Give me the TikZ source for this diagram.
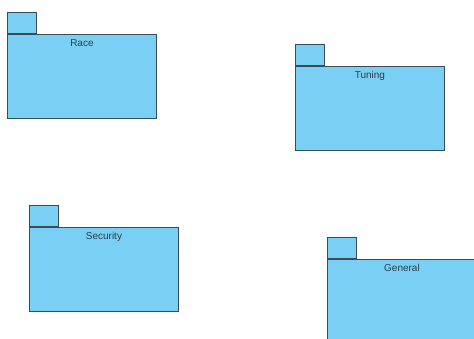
\documentclass[tikz,border=0pt]{standalone}
\usepackage{fontspec}
\setmainfont{Liberation Sans}
\usetikzlibrary{positioning}
\definecolor{pkgfill}{HTML}{7ACFF4}
\definecolor{pkgline}{HTML}{3C4A55}
\definecolor{pkgtext}{HTML}{2E3E4A}
\begin{document}
\begin{tikzpicture}[x=1pt, y=-1pt,
		body/.style = {rectangle, draw=pkgline, fill=pkgfill, line width=0.9pt, minimum width=149, minimum height=84, anchor=north west, inner sep=0},
		tab/.style = {rectangle, draw=pkgline, fill=pkgfill, line width=0.9pt, minimum width=29, minimum height=21, anchor=south west, inner sep=0},
		lbl/.style = {text=pkgtext, font=\fontsize{10}{12}\selectfont, inner sep=0}
		]
		\useasboundingbox (0,0) rectangle (474,338);
		\clip (0,0) rectangle (474,338);
		
		%Packages
		\node[body]	(race)		at	(7, 34)		{};
		\node[body]	(tuning)	at	(295, 66)	{};
		\node[body]	(security)	at	(29, 227)	{};
		\node[body]	(general)	at	(327, 259)	{};
		
		%Tabs
		\node[tab]	(racetab)		at	(race.north west)		{};
		\node[tab]	(tuningtab)		at	(tuning.north west)		{};
		\node[tab]	(securitytab)	at	(security.north west)	{};
		\node[tab]	(generaltab)	at	(general.north west)	{};
		
		%Names
		\node[lbl, below=5pt of race.north]		(racename)		{Race};
		\node[lbl, below=5pt of tuning.north]	(tuningname)	{Tuning};
		\node[lbl, below=5pt of security.north]	(securityname)	{Security};
		\node[lbl, below=5pt of general.north]	(generalname)	{General};
	\end{tikzpicture}
\end{document}
